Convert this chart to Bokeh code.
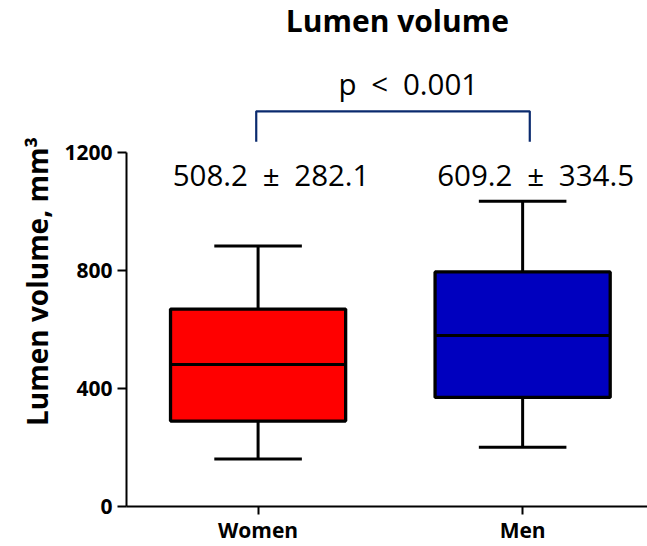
import numpy as np
from bokeh.plotting import figure
from bokeh.models import ColumnDataSource, FixedTicker, Range1d, LinearAxis
from bokeh.core.properties import value
from bokeh.embed import file_html
from bokeh.resources import INLINE

# ---- data ----
categories = ["Women", "Men"]
cat_pos = [1, 2]
whisker_low = [161, 201]
q1 = [290, 370]
median = [482, 580]
q3 = [670, 796]
whisker_high = [884, 1036]
box_colors = ["#ff0000", "#0000bf"]
mean_sd_labels = ["508.2\u2002\u00b1\u2002282.1", "609.2\u2002\u00b1\u2002334.5"]
p_label = "p\u2002<\u20020.001"
y_ticks = [0, 400, 800, 1200]
title_text = "Lumen volume"
y_label = "Lumen volume, mm\u00b3"

FONT = "Open Sans"

p = figure(width=647, height=546, output_backend="svg", toolbar_location=None,
           x_range=Range1d(0.5026, 2.472), y_range=Range1d(0, 1717),
           min_border_left=126, min_border_right=0, min_border_top=0,
           min_border_bottom=37)
p.outline_line_color = None
p.xgrid.visible = False
p.ygrid.visible = False
p.background_fill_color = "white"
p.border_fill_color = "white"

x = np.array(cat_pos, dtype=float)
box_w = 0.662
cap_w = 0.331

src = ColumnDataSource(dict(x=x, q1=q1, q3=q3, med=median, lo=whisker_low,
                            hi=whisker_high, color=box_colors,
                            cl=x - cap_w / 2, cr=x + cap_w / 2,
                            bl=x - box_w / 2, br=x + box_w / 2))

# whiskers
p.segment(x0="x", y0="q3", x1="x", y1="hi", source=src, line_color="black", line_width=3)
p.segment(x0="x", y0="q1", x1="x", y1="lo", source=src, line_color="black", line_width=3)
# caps
p.segment(x0="cl", y0="hi", x1="cr", y1="hi", source=src, line_color="black", line_width=3)
p.segment(x0="cl", y0="lo", x1="cr", y1="lo", source=src, line_color="black", line_width=3)
# boxes
p.vbar(x="x", width=box_w, bottom="q1", top="q3", source=src, fill_color="color",
       line_color="black", line_width=3.3)
# median
p.segment(x0="bl", y0="med", x1="br", y1="med", source=src, line_color="black", line_width=3)

# mean +- sd labels
p.text(x=x, y=[1125, 1125], text=mean_sd_labels, x_offset=[13, 13],
       text_font=value(FONT), text_font_size="29.5px", text_align="center",
       text_baseline="alphabetic", text_color="black")

# significance bracket
bx0, bx1 = x[0] - 0.007, x[1] + 0.027
p.line(x=[bx0, bx0, bx1, bx1], y=[1238, 1341, 1341, 1238], line_color="#0a2a6e",
       line_width=2.2)
p.text(x=[(x[0] + x[1]) / 2], y=[1435], text=[p_label], x_offset=[18],
       text_font=value(FONT), text_font_size="29.5px", text_align="center",
       text_baseline="alphabetic", text_color="black")

# title
p.text(x=[(x[0] + x[1]) / 2], y=[1650], text=[title_text], x_offset=[7],
       text_font=value(FONT), text_font_size="30px", text_font_style="bold",
       text_align="center", text_baseline="alphabetic", text_color="black")

# axes
for ax in (p.xaxis[0], p.yaxis[0]):
    ax.axis_line_width = 2
    ax.axis_line_color = "black"
    ax.major_tick_line_width = 2
    ax.major_tick_line_color = "black"
    ax.minor_tick_line_color = None
    ax.major_tick_in = 0
    ax.major_label_text_font = FONT
    ax.major_label_text_font_style = "bold"
    ax.major_label_text_font_size = "21px"
    ax.major_label_text_color = "black"

p.yaxis.ticker = FixedTicker(ticks=y_ticks)
p.yaxis.bounds = (0, 1200)
p.yaxis.major_tick_out = 9
p.yaxis.major_label_standoff = 5

p.xaxis.ticker = FixedTicker(ticks=cat_pos)
p.xaxis.major_label_overrides = {c: n for c, n in zip(cat_pos, categories)}
p.xaxis.major_tick_out = 8
p.xaxis.major_label_standoff = 1

# y axis title carried by a bare outer axis; trailing em spaces shift it down
label_axis = LinearAxis(ticker=FixedTicker(ticks=[]), bounds=(0, 1200),
                        axis_line_color=None, major_tick_line_color=None,
                        minor_tick_line_color=None, major_tick_out=0,
                        axis_label=y_label + "\u2003\u2003", axis_label_standoff=6,
                        axis_label_text_font=FONT, axis_label_text_font_size="28px",
                        axis_label_text_font_style="bold",
                        axis_label_text_color="black")
p.add_layout(label_axis, "left")

open("out.html", "w").write(file_html(p, INLINE))
